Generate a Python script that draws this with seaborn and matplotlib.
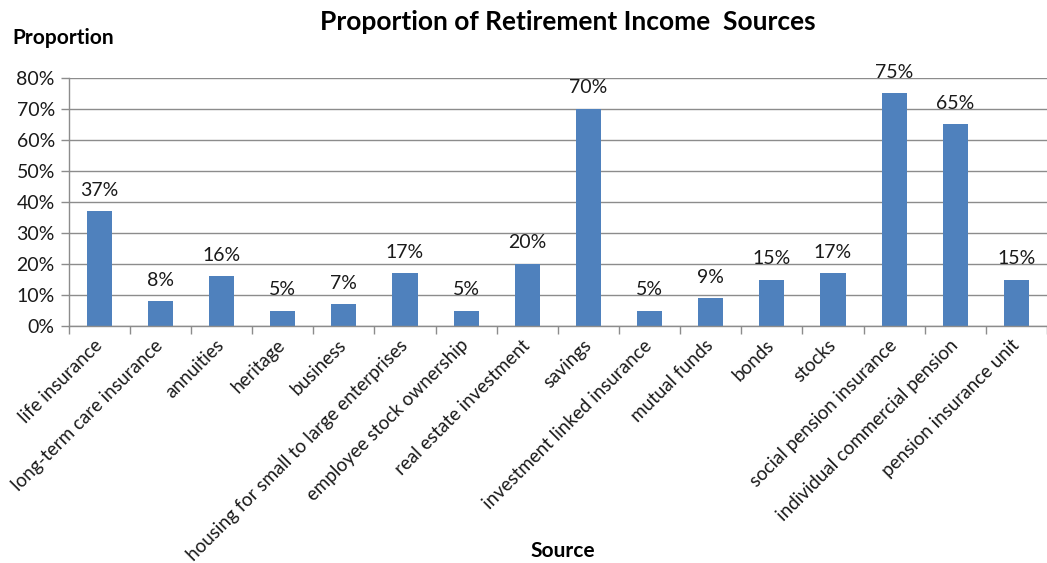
import matplotlib
matplotlib.use("Agg")
import matplotlib.pyplot as plt
import seaborn as sns
import pandas as pd
from matplotlib.ticker import FixedLocator, PercentFormatter

categories = ["life insurance", "long-term care insurance", "annuities", "heritage",
              "business", "housing for small to large enterprises",
              "employee stock ownership", "real estate investment", "savings",
              "investment linked insurance", "mutual funds", "bonds", "stocks",
              "social pension insurance", "individual commercial pension",
              "pension insurance unit"]
values = [37, 8, 16, 5, 7, 17, 5, 20, 70, 5, 9, 15, 17, 75, 65, 15]
y_ticks = [0, 10, 20, 30, 40, 50, 60, 70, 80]

sns.set_theme(style="white")
plt.rcParams['font.family'] = ['Lato', 'DejaVu Sans']

df = pd.DataFrame({"Source": categories, "Proportion": values})

fig = plt.figure(figsize=(10.47, 5.63), dpi=100)
ax = fig.add_axes([68.7/1047, 1-326/563, 1-68.7/1047, (326-78)/563])

bar_color = "#4F81BD"
sns.barplot(data=df, x="Source", y="Proportion", color=bar_color, width=0.41,
            saturation=1, linewidth=0, ax=ax)

text_color = "#1a1a1a"
grid_color = "#8c8c8c"

ax.set_ylim(0, 80)
ax.set_xlim(-0.5, (1047-68.7)/61.6 - 0.5)
ax.yaxis.set_major_locator(FixedLocator(y_ticks))
ax.yaxis.set_major_formatter(PercentFormatter(decimals=0))
ax.grid(axis="y", color=grid_color, linewidth=1)
ax.set_axisbelow(True)

for s in ["top", "right"]:
    ax.spines[s].set_visible(False)
for s in ["left", "bottom"]:
    ax.spines[s].set_color(grid_color)
    ax.spines[s].set_linewidth(1)

ax.tick_params(axis="y", which="major", left=True, length=6, color=grid_color,
               width=1, labelsize=14, labelcolor=text_color, pad=4)
ax.set_xticks(range(len(categories)))
ax.set_xticklabels(categories, rotation=45, ha="right", va="center",
                   rotation_mode="anchor", fontsize=13.5, color=text_color)
ax.tick_params(axis="x", which="major", bottom=False, length=0, pad=12)
ax.set_xticks([i - 0.5 for i in range(len(categories) + 1)], minor=True)
ax.tick_params(axis="x", which="minor", bottom=True, length=6, color=grid_color, width=1)

for c in ax.containers:
    ax.bar_label(c, labels=[f"{v}%" for v in values], padding=9, fontsize=14,
                 color=text_color)

ax.set_xlabel("")
ax.set_ylabel("")
fig.text(12/1047, 1-38/563, "Proportion", fontsize=15, fontweight="bold",
         color="black", ha="left", va="center")
fig.text(563/1047, 1-551/563, "Source", fontsize=15, fontweight="bold",
         color="black", ha="center", va="center")
fig.text(568/1047, 1-22/563, "Proportion of Retirement Income  Sources",
         fontsize=19, fontweight="bold", color="black", ha="center", va="center")

fig.savefig("out.png", dpi=100, facecolor="white")
